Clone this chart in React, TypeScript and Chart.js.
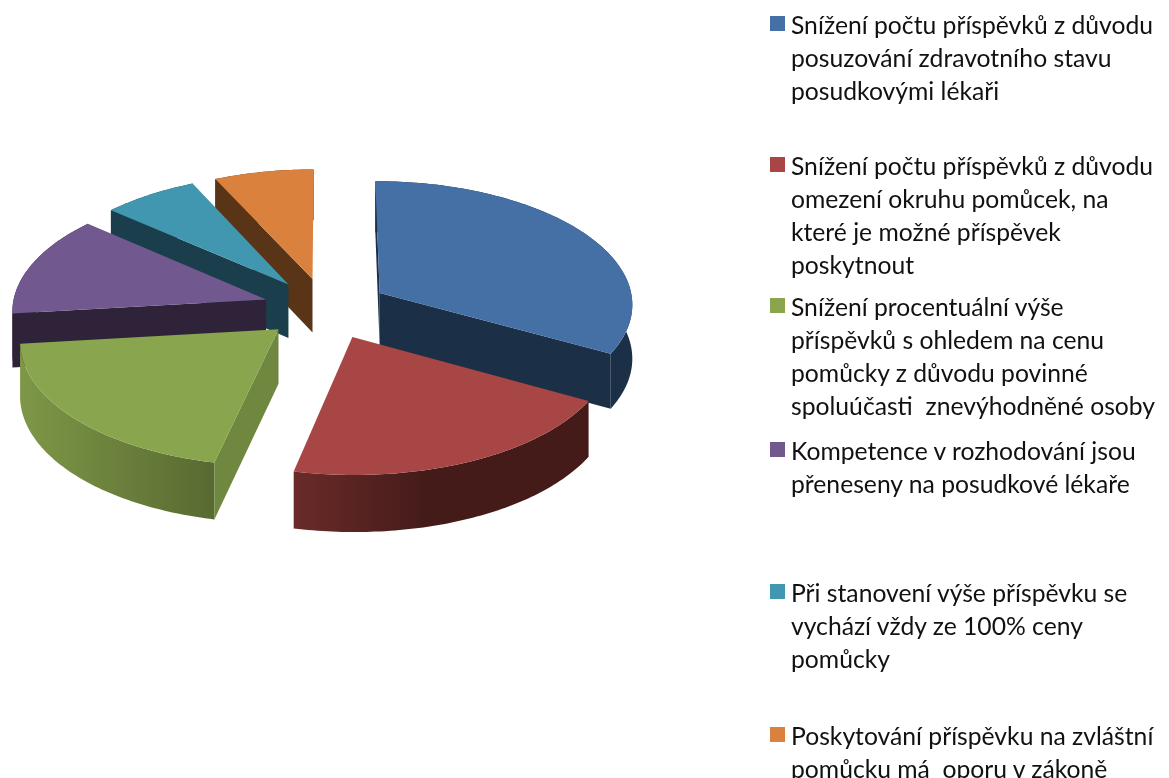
import React, { useEffect, useRef } from "react";
import { Chart, registerables } from "chart.js";

Chart.register(...registerables);

const categories: string[][] = [
  ["Snížení počtu příspěvků z důvodu", "posuzování zdravotního stavu", "posudkovými lékaři"],
  ["Snížení počtu příspěvků z důvodu", "omezení okruhu pomůcek, na", "které je možné příspěvek", "poskytnout"],
  ["Snížení procentuální výše", "příspěvků s ohledem na cenu", "pomůcky z důvodu povinné", "spoluúčasti  znevýhodněné osoby"],
  ["Kompetence v rozhodování jsou", "přeneseny na posudkové lékaře"],
  ["Při stanovení výše příspěvku se", "vychází vždy ze 100% ceny", "pomůcky"],
  ["Poskytování příspěvku na zvláštní", "pomůcku má  oporu v zákoně"],
];
const values = [33, 20.5, 19.7, 13.1, 6.7, 7];
const topColors = ["#4470A5", "#A74644", "#89A54E", "#71588F", "#4197AF", "#D9813D"];
const wallFrom = ["#1B2F47", "#6A2B29", "#7E9747", "#2E2339", "#1A3E4B", "#5A3416"];
const wallTo = ["#1B2F47", "#441B19", "#586A31", "#2E2339", "#1A3E4B", "#5A3416"];
const cutColors = ["#1B2F47", "#441B19", "#6F873F", "#2E2339", "#1A3E4B", "#5A3416"];
const legendTops = [8, 149, 290, 434, 576, 719];

const KY = 0.488;
const KY_PERSP = 0.038;
const KX_PERSP = 0.08;
const DEPTH = 54;
const DEPTH_PERSP = 2.5;

const pie3d = {
  id: "pie3d",
  beforeDatasetDraw(chart: any) {
    const ctx: CanvasRenderingContext2D = chart.ctx;
    const arcs: any[] = chart.getDatasetMeta(0).data;
    const mid = (a: any) => (a.startAngle + a.endAngle) / 2;
    const order = arcs.map((_, i) => i).sort((p, q) => Math.sin(mid(arcs[p])) - Math.sin(mid(arcs[q])));
    order.forEach((i) => {
      const arc = arcs[i];
      const R = arc.outerRadius;
      const off = arc.options.offset;
      const m = mid(arc);
      const ou = off * Math.cos(m);
      const ov = off * Math.sin(m);
      const project = (u: number, v: number, z: number): [number, number] => {
        const t = v / R;
        const x = arc.x + u * (1 + KX_PERSP * t);
        const y = arc.y + v * (KY + KY_PERSP * t) + z * (DEPTH + DEPTH_PERSP * t);
        return [x, y];
      };
      const at = (a: number, z: number) => project(ou + R * Math.cos(a), ov + R * Math.sin(a), z);
      const apex = (z: number) => project(ou, ov, z);
      const steps = Math.max(2, Math.ceil(((arc.endAngle - arc.startAngle) * 180) / Math.PI));
      const rim: number[] = [];
      for (let s = 0; s <= steps; s++) rim.push(arc.startAngle + ((arc.endAngle - arc.startAngle) * s) / steps);
      const fillPoly = (pts: [number, number][], style: any) => {
        ctx.beginPath();
        pts.forEach((p, k) => (k ? ctx.lineTo(p[0], p[1]) : ctx.moveTo(p[0], p[1])));
        ctx.closePath();
        ctx.fillStyle = style;
        ctx.fill();
      };
      // outer wall
      const topRim = rim.map((a) => at(a, 0));
      const lowRim = rim.map((a) => at(a, 1)).reverse();
      const xs = topRim.map((p) => p[0]);
      const grad = ctx.createLinearGradient(Math.min(...xs), 0, Math.max(...xs), 0);
      grad.addColorStop(0, wallFrom[i]);
      grad.addColorStop(i === 1 ? 0.45 : 1, wallTo[i]);
      if (i === 1) grad.addColorStop(1, wallTo[i]);
      fillPoly([...topRim, ...lowRim], grad);
      // cut faces that look towards the viewer
      if (-Math.cos(arc.startAngle) > -0.01) {
        fillPoly([apex(0), at(arc.startAngle, 0), at(arc.startAngle, 1), apex(1)], cutColors[i]);
      }
      if (Math.cos(arc.endAngle) > 0.01) {
        fillPoly([apex(0), at(arc.endAngle, 0), at(arc.endAngle, 1), apex(1)], cutColors[i]);
      }
      // top face
      fillPoly([apex(0), ...topRim], arc.options.backgroundColor);
    });
    return false;
  },
};

export default function App() {
  const ref = useRef<HTMLCanvasElement>(null);
  useEffect(() => {
    const chart = new Chart(ref.current as HTMLCanvasElement, {
      type: "doughnut",
      data: {
        labels: categories.map((c) => c.join(" ")),
        datasets: [
          {
            data: values,
            backgroundColor: topColors,
            borderWidth: 0,
            offset: 63,
          },
        ],
      },
      options: {
        responsive: false,
        animation: false,
        cutout: 0,
        radius: 254,
        rotation: 0,
        layout: { padding: { left: 0, top: 0, right: 517, bottom: 161 } },
        plugins: { legend: { display: false }, tooltip: { enabled: false } },
        events: [],
      },
      plugins: [pie3d],
    } as any);
    return () => chart.destroy();
  }, []);
  return (
    <div style={{ position: "absolute", left: 0, top: 0, width: 1169, height: 778, overflow: "hidden", background: "#fff" }}>
      <canvas ref={ref} width={1169} height={778} style={{ position: "absolute", left: 0, top: 0 }} />
      {categories.map((lines, i) => (
        <div key={i} style={{ position: "absolute", left: 770, top: legendTops[i], whiteSpace: "pre", fontFamily: "Lato, sans-serif", fontSize: 24.7, lineHeight: "33px", color: "#111" }}>
          <div style={{ position: "absolute", left: 0, top: 8, width: 15, height: 15, background: topColors[i] }} />
          <div style={{ marginLeft: 21 }}>
            {lines.map((l, k) => (
              <div key={k}>{l}</div>
            ))}
          </div>
        </div>
      ))}
    </div>
  );
}
